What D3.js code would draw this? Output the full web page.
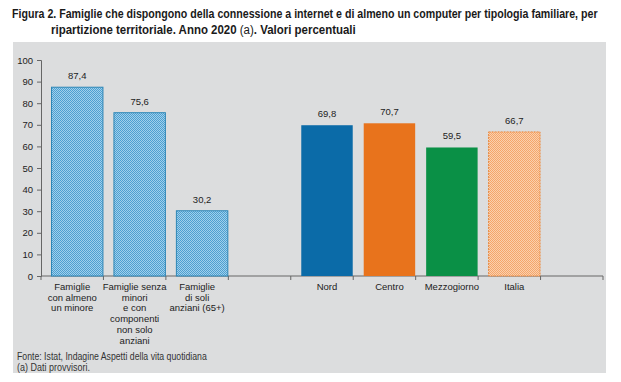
<!DOCTYPE html>
<html>
<head>
<meta charset="utf-8">
<script src="https://cdn.jsdelivr.net/npm/d3@7"></script>
<style>
  body { margin: 0; background: #fff; }
  svg { display: block; font-family: "Liberation Sans", Arial, sans-serif; }
</style>
</head>
<body>
<svg id="chart" width="621" height="382"></svg>
<script>
// dati
let categories = ["fam1", "fam2", "fam3", "gap1", "Nord", "Centro", "Mezzogiorno", "Italia", "gap2"]
let values = [87.4, 75.6, 30.2, null, 69.8, 70.7, 59.5, 66.7, null]
let labels = [
    ["Famiglie", "con almeno", "un minore"],
    ["Famiglie senza", "minori", "e con", "componenti", "non solo", "anziani"],
    ["Famiglie", "di soli", "anziani (65+)"],
    [],
    ["Nord"], ["Centro"], ["Mezzogiorno"], ["Italia"],
    []
]
let yTicks = [0, 10, 20, 30, 40, 50, 60, 70, 80, 90, 100]
let fills = ["url(#hatchBlue)", "url(#hatchBlue)", "url(#hatchBlue)", null,
             "#0b6ba8", "#e8731c", "#0a9046", "url(#hatchOrange)", null]
let strokes = ["#2d86b6", "#2d86b6", "#2d86b6", null, "none", "none", "none", "#e98a40", null]

let marginLeft = 41,
    marginRight = 18,
    marginTop = 60,
    plotBottom = 276;

let svg = d3.select("#chart")
let width = +svg.attr("width")

// pattern
let defs = svg.append("defs")
function makePattern(id, bg, dot) {
    let p = defs.append("pattern")
        .attr("id", id)
        .attr("patternUnits", "userSpaceOnUse")
        .attr("width", 2).attr("height", 2)
    p.append("rect").attr("width", 2).attr("height", 2).attr("fill", bg)
    p.append("rect").attr("width", 1).attr("height", 1).attr("fill", dot)
    p.append("rect").attr("x", 1).attr("y", 1).attr("width", 1).attr("height", 1).attr("fill", dot)
}
makePattern("hatchBlue", "#9fd0ec", "#4e9fd0")
makePattern("hatchOrange", "#fbd0ad", "#f4a66c")

// pannello grigio
svg.append("rect")
    .attr("x", 13).attr("y", 42)
    .attr("width", 593).attr("height", 331)
    .attr("fill", "#dcddde")

// testo compresso in orizzontale fino alla larghezza voluta
function squeezed(parent, x0, y0, w, build) {
    let g = parent.append("g")
    let t = g.append("text").attr("x", 0).attr("y", 0)
    build(t)
    let natural = t.node().getComputedTextLength()
    g.attr("transform", `translate(${x0},${y0}) scale(${w / natural},1)`)
    return g
}

// titolo
let title = svg.append("g").attr("font-family", "'Liberation Sans Narrow', 'Liberation Sans', Arial, sans-serif")
    .attr("font-weight", "bold").attr("font-size", 13.5).attr("fill", "#1a1a1a")
squeezed(title, 12, 18, 586, t => t.text("Figura 2. Famiglie che dispongono della connessione a internet e di almeno un computer per tipologia familiare, per"))
squeezed(title, 51, 34, 305, t => {
    t.append("tspan").text("ripartizione territoriale. Anno 2020 ")
    t.append("tspan").attr("font-weight", "normal").text("(a)")
    t.append("tspan").text(". Valori percentuali")
})

let x = d3.scaleBand(categories, [marginLeft, width - marginRight])
let y = d3.scaleLinear([0, 100], [plotBottom, marginTop])
let bw = x.bandwidth()
let gap = bw * 0.16

// asse y
let gy = svg.append("g")
    .attr("transform", `translate(${marginLeft},0)`)
    .call(d3.axisLeft(y).tickValues(yTicks).tickSize(4).tickPadding(4))
gy.select(".domain").attr("stroke", "#666")
gy.selectAll(".tick line").attr("stroke", "#666")
gy.selectAll(".tick text").attr("font-size", 9.5).attr("fill", "#222")
    .attr("font-family", "'Liberation Sans', Arial, sans-serif")

// asse x
let gx = svg.append("g")
gx.append("line")
    .attr("x1", marginLeft).attr("x2", width - marginRight)
    .attr("y1", plotBottom).attr("y2", plotBottom)
    .attr("stroke", "#666")
let boundaries = categories.map(d => x(d)).concat([x(categories[categories.length - 1]) + bw])
gx.selectAll("line.tk")
    .data(boundaries)
    .join("line")
    .attr("class", "tk")
    .attr("x1", d => d).attr("x2", d => d)
    .attr("y1", plotBottom).attr("y2", plotBottom + 4)
    .attr("stroke", "#666")

// barre
let data = categories.map((c, i) => ({c, v: values[i], fill: fills[i], stroke: strokes[i], lab: labels[i]}))
svg.append("g")
    .selectAll("rect")
    .data(data.filter(d => d.v != null))
    .join("rect")
    .attr("x", d => x(d.c) + gap + 0.5)
    .attr("y", d => y(d.v))
    .attr("width", bw - gap - 1)
    .attr("height", d => plotBottom - y(d.v))
    .attr("fill", d => d.fill)
    .attr("stroke", d => d.stroke)
    .attr("stroke-width", 1)
    .attr("stroke-dasharray", d => d.c == "Italia" ? "2,1" : null)

// valori
svg.append("g")
    .selectAll("text")
    .data(data.filter(d => d.v != null))
    .join("text")
    .attr("x", d => x(d.c) + gap + (bw - gap) / 2)
    .attr("y", d => y(d.v) - 8)
    .attr("text-anchor", "middle")
    .attr("font-size", 9.5)
    .attr("fill", "#222")
    .text(d => d3.format(".1f")(d.v).replace(".", ","))

// etichette categorie
let gl = svg.append("g")
    .attr("font-size", 9.5)
    .attr("fill", "#222")
    .attr("text-anchor", "middle")
gl.selectAll("text")
    .data(data.filter(d => d.lab.length))
    .join("text")
    .attr("x", d => x(d.c) + bw / 2 + (d.c.startsWith("fam") ? 0 : gap / 2))
    .attr("y", 290)
    .each(function(d) {
        d3.select(this).selectAll("tspan")
            .data(d.lab)
            .join("tspan")
            .attr("x", d3.select(this).attr("x"))
            .attr("dy", (l, i) => i == 0 ? 0 : 10.7)
            .text(l => l)
    })

// fonte
let foot = svg.append("g")
    .attr("font-family", "'Liberation Sans Narrow', 'Liberation Sans', Arial, sans-serif")
    .attr("font-size", 10.5).attr("fill", "#333")
squeezed(foot, 17, 360, 190, t => t.text("Fonte: Istat, Indagine Aspetti della vita quotidiana"))
squeezed(foot, 17, 371, 73, t => t.text("(a) Dati provvisori."))
</script>
</body>
</html>
